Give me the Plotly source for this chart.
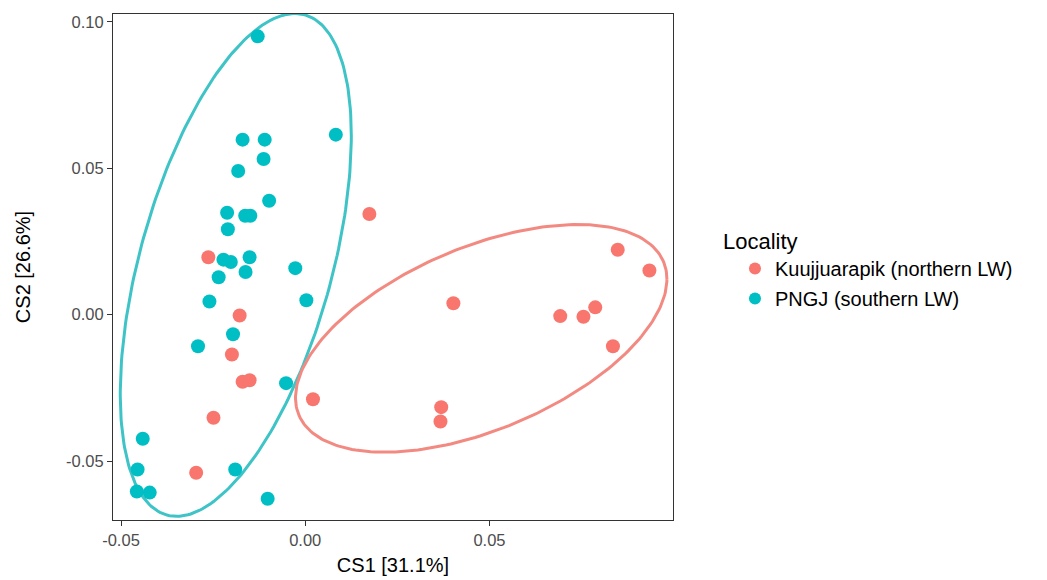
import numpy as np
import plotly.graph_objects as go

# --- data ---
kuuj_x = [-0.0263, -0.0178, -0.0199, -0.0170, -0.0151, -0.0249, -0.0296, 0.0021,
          0.0174, 0.0402, 0.0692, 0.0755, 0.0787, 0.0848, 0.0934, 0.0835, 0.0369, 0.0367]
kuuj_y = [0.0196, -0.0003, -0.0136, -0.0229, -0.0224, -0.0352, -0.0540, -0.0289,
          0.0344, 0.0039, -0.0005, -0.0007, 0.0025, 0.0222, 0.0151, -0.0108, -0.0316, -0.0365]

pngj_x = [-0.0129, -0.0170, -0.0110, -0.0113, -0.0182, 0.0083, -0.0098, -0.0212,
          -0.0163, -0.0149, -0.0210, -0.0151, -0.0222, -0.0202, -0.0162, -0.0235,
          -0.0027, -0.0260, 0.0003, -0.0196, -0.0291, -0.0052, -0.0441, -0.0455,
          -0.0190, -0.0457, -0.0422, -0.0102]
pngj_y = [0.0951, 0.0598, 0.0598, 0.0532, 0.0491, 0.0615, 0.0389, 0.0348,
          0.0338, 0.0338, 0.0292, 0.0196, 0.0188, 0.0180, 0.0146, 0.0128,
          0.0159, 0.0045, 0.0049, -0.0067, -0.0108, -0.0234, -0.0424, -0.0529,
          -0.0529, -0.0604, -0.0608, -0.0629]

# ellipse parameters (centre and spread matrix, in data units)
kuuj_center = [0.04775, -0.0081]
kuuj_spread = [[0.00254, 0.00102], [0.00102, 0.001513]]
pngj_center = [-0.01885, 0.0170]
pngj_spread = [[0.000983, 0.00138], [0.00138, 0.007379]]

x_ticks = [-0.05, 0.00, 0.05]
x_ticklabels = ["-0.05", "0.00", "0.05"]
y_ticks = [-0.05, 0.00, 0.05, 0.10]
y_ticklabels = ["-0.05", "0.00", "0.05", "0.10"]

RED = "#F8766D"
TEAL = "#00BFC4"


def ellipse(center, spread, n=240):
    L = np.linalg.cholesky(np.array(spread))
    t = np.linspace(0, 2 * np.pi, n)
    circ = np.vstack([np.cos(t), np.sin(t)])
    pts = L @ circ
    return pts[0] + center[0], pts[1] + center[1]


fig = go.Figure()

ex, ey = ellipse(pngj_center, pngj_spread)
fig.add_trace(go.Scatter(x=ex, y=ey, mode="lines", line=dict(color="#3EC3C6", width=3),
                         showlegend=False, hoverinfo="skip"))
ex, ey = ellipse(kuuj_center, kuuj_spread)
fig.add_trace(go.Scatter(x=ex, y=ey, mode="lines", line=dict(color="#F38A82", width=3),
                         showlegend=False, hoverinfo="skip"))

fig.add_trace(go.Scatter(x=kuuj_x, y=kuuj_y, mode="markers", name="Kuujjuarapik (northern LW)",
                         legendgroup="a",
                         marker=dict(color=RED, size=14, line=dict(width=0))))
fig.add_trace(go.Scatter(x=pngj_x, y=pngj_y, mode="markers", name="PNGJ (southern LW)",
                         legendgroup="b",
                         marker=dict(color=TEAL, size=14, line=dict(width=0))))

axis_common = dict(showgrid=False, zeroline=False, showline=True, linecolor="#333333",
                   linewidth=1.2, mirror=True, ticks="outside", ticklen=5, tickwidth=1.2,
                   tickcolor="#333333", tickfont=dict(size=16.5, color="#4D4D4D"),
                   automargin=False)

fig.update_layout(
    width=1039, height=572,
    paper_bgcolor="white", plot_bgcolor="white",
    font=dict(family="Liberation Sans, Arial, sans-serif", color="black"),
    margin=dict(l=105, r=374, t=6, b=60),
    xaxis=dict(range=[-0.05217, 0.0998], tickvals=x_ticks, ticktext=x_ticklabels,
               title=dict(text="CS1 [31.1%]", font=dict(size=20), standoff=10), **axis_common),
    yaxis=dict(range=[-0.07016, 0.10273], tickvals=y_ticks, ticktext=y_ticklabels,
               title=dict(text="CS2 [26.6%]", font=dict(size=20), standoff=29), **axis_common),
    legend=dict(title=dict(text="Locality", font=dict(size=22)), font=dict(size=20),
                x=1.0857, y=0.592, xanchor="left", yanchor="top", itemsizing="constant",
                indentation=14, tracegroupgap=1, bgcolor="rgba(0,0,0,0)"),
)

fig.write_html("out.html")
